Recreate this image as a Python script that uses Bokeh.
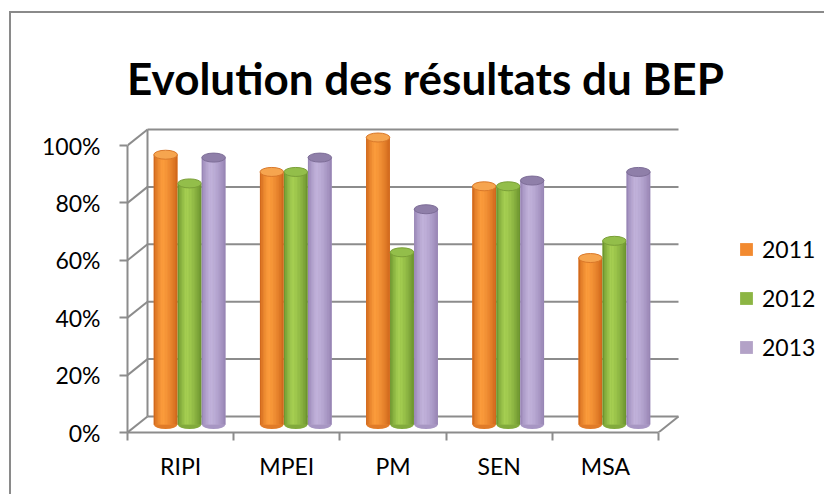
from bokeh.plotting import figure
from bokeh.models import Range1d, FixedTicker, NumeralTickFormatter, Label, Legend, LegendItem
from bokeh.embed import file_html
from bokeh.resources import INLINE

# ---- data ----
categories = ["RIPI", "MPEI", "PM", "SEN", "MSA"]
series_names = ["2011", "2012", "2013"]
v2011 = [0.94, 0.88, 1.00, 0.83, 0.58]
v2012 = [0.84, 0.88, 0.60, 0.83, 0.64]
v2013 = [0.93, 0.93, 0.75, 0.85, 0.88]
y_ticks = [0.0, 0.2, 0.4, 0.6, 0.8, 1.0]
title_text = "Evolution des résultats du BEP"

series_values = [v2011, v2012, v2013]

# ---- styles ----
PXX = 106.2   # px per category unit
PXY = 287.0   # px per 1.0 (100%)
DX = 1.0 / PXX
DY = 1.0 / PXY
GRID = "#8c8c8c"
FONT = "Lato"

dark = ["#C45A14", "#5E8526", "#8D7AAB"]
light = ["#FB9C3C", "#A6CF52", "#C1B2DB"]
base = ["#F28A30", "#8CB543", "#B3A2C7"]
cap_fill = ["#F6A54F", "#93BE4A", "#8F7FA9"]
cap_line = ["#D9782A", "#7A9F38", "#7D6D97"]


def hex2rgb(h):
    h = h.lstrip("#")
    return tuple(int(h[i:i + 2], 16) for i in (0, 2, 4))


def mix(c1, c2, w):
    a, b = hex2rgb(c1), hex2rgb(c2)
    return "#%02x%02x%02x" % tuple(int(round(a[i] + (b[i] - a[i]) * w)) for i in range(3))


def shade(t):
    if t < 0.35:
        return (t / 0.35) ** 0.6
    return 1.0 - 0.85 * ((t - 0.35) / 0.65) ** 1.6


# canvas origin at page (11, 13) after the css margin + border
OX, OY = 11, 13
W, H = 815, 483
ML = 127 - OX          # frame left at page x=127
MB = H - (432 - OY)    # frame bottom (0%) at page y=432
p = figure(width=W, height=H,
           x_range=Range1d(0, (W - ML) / PXX), y_range=Range1d(0, (H - MB) / PXY),
           output_backend="svg", toolbar_location=None,
           min_border_left=ML, min_border_right=0, min_border_top=0, min_border_bottom=MB,
           styles={"margin-left": "9px", "margin-top": "11px",
                   "border-left": "2px solid #8a8a8a", "border-top": "2px solid #8a8a8a"})
p.xgrid.visible = False
p.ygrid.visible = False
p.outline_line_color = None
p.background_fill_color = "white"
p.border_fill_color = "white"

ncat = len(categories)
bdx = 20 * DX   # back wall depth offset
bdy = 16 * DY

# back wall grid lines
p.segment(x0=[bdx] * len(y_ticks), y0=[t + bdy for t in y_ticks],
          x1=[ncat + bdx] * len(y_ticks), y1=[t + bdy for t in y_ticks],
          line_color=GRID, line_width=2)
# side diagonals
p.segment(x0=[0] * len(y_ticks), y0=y_ticks,
          x1=[bdx] * len(y_ticks), y1=[t + bdy for t in y_ticks],
          line_color=GRID, line_width=2)
# back wall left edge and floor right edge
p.segment(x0=[bdx, ncat], y0=[bdy, 0], x1=[bdx, ncat + bdx], y1=[y_ticks[-1] + bdy, bdy],
          line_color=GRID, line_width=2)

# cylinders
bw = 0.222
pitch = 0.226
mdx = 9 * DX
mdy = 8 * DY
N = 16
legend_items = []
for si, vals in enumerate(series_values):
    off = mdx + (si - 1) * pitch
    xs = [i + 0.5 + off for i in range(ncat)]
    tops = [v + mdy for v in vals]
    p.ellipse(x=xs, y=[mdy] * ncat, width=bw, height=9 * DY,
              fill_color=mix(dark[si], light[si], 0.5), line_color=None)
    r = p.vbar(x=xs, bottom=mdy, top=tops, width=bw, fill_color=base[si], line_color=None)
    legend_items.append(LegendItem(label=series_names[si], renderers=[r]))
    for k in range(N):
        t = (k + 0.5) / N
        col = mix(dark[si], light[si], shade(t))
        p.vbar(x=[x + (t - 0.5) * bw for x in xs], bottom=mdy, top=tops,
               width=bw / N * 1.15, fill_color=col, line_color=None)
    p.ellipse(x=xs, y=tops, width=bw, height=9 * DY,
              fill_color=cap_fill[si], line_color=cap_line[si], line_width=1)

# axes
ya = p.yaxis[0]
ya.ticker = FixedTicker(ticks=y_ticks, minor_ticks=[])
ya.formatter = NumeralTickFormatter(format="0%")
ya.bounds = (0, 1)
ya.axis_line_color = GRID
ya.axis_line_width = 2
ya.major_tick_line_color = GRID
ya.major_tick_line_width = 2
ya.major_tick_out = 8
ya.major_tick_in = 0
ya.minor_tick_line_color = None
ya.major_label_text_font = FONT
ya.major_label_text_font_size = "23px"
ya.major_label_text_color = "black"
ya.major_label_standoff = 19

xa = p.xaxis[0]
xa.ticker = FixedTicker(ticks=[i + 0.5 for i in range(ncat)], minor_ticks=list(range(ncat + 1)))
xa.major_label_overrides = {i + 0.5: c for i, c in enumerate(categories)}
xa.bounds = (0, ncat)
xa.axis_line_color = GRID
xa.axis_line_width = 2
xa.major_tick_out = 0
xa.major_tick_in = 0
xa.minor_tick_out = 8
xa.minor_tick_in = 0
xa.minor_tick_line_color = GRID
xa.minor_tick_line_width = 2
xa.major_label_text_font = FONT
xa.major_label_text_font_size = "23px"
xa.major_label_text_color = "black"
xa.major_label_standoff = 11

# title
p.add_layout(Label(x=(425 - 127) / PXX, y=(432 - 77) / PXY, text=title_text,
                   text_font=FONT, text_font_style="bold", text_font_size="44px",
                   text_align="center", text_baseline="alphabetic", text_color="black"))

# legend
leg = Legend(items=legend_items, location=(611, 71),
             glyph_width=16, glyph_height=16, label_height=24,
             label_text_font=FONT, label_text_font_size="23px", label_text_color="black",
             label_standoff=8, spacing=21, padding=0, margin=0,
             border_line_color=None, background_fill_alpha=0)
p.add_layout(leg)

open("out.html", "w").write(file_html(p, INLINE))
